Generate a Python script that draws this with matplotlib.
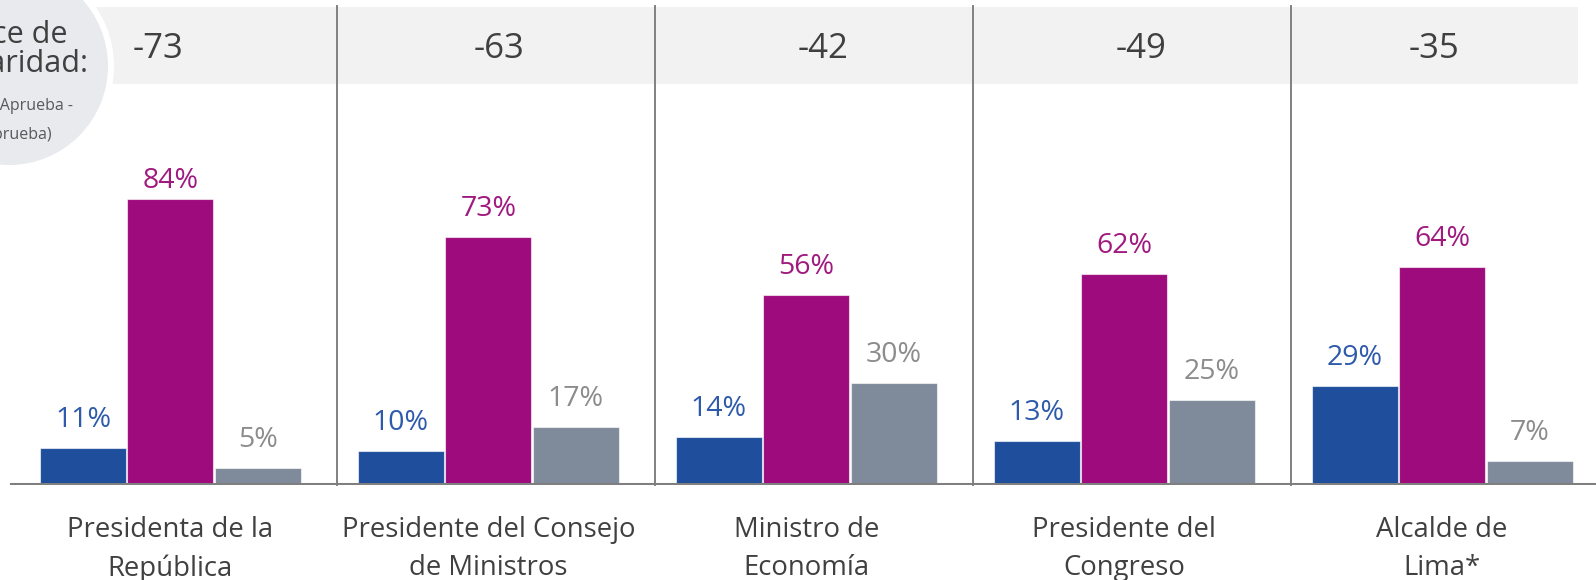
import matplotlib.pyplot as plt
from matplotlib.patches import Rectangle, Circle
import numpy as np

plt.rcParams['font.family'] = ['Open Sans', 'DejaVu Sans']

# data
cargos = ['Presidenta de la\nRepública', 'Presidente del Consejo\nde Ministros',
          'Ministro de\nEconomía', 'Presidente del\nCongreso', 'Alcalde de\nLima*']
aprueba = [11, 10, 14, 13, 29]
desaprueba = [84, 73, 56, 62, 64]
no_precisa = [5, 17, 30, 25, 7]
indice = [-73, -63, -42, -49, -35]

c_blue = '#1F4E9C'
c_mag = '#9E0B7D'
c_gray = '#7F8A9B'
t_dark = '#404040'

W, H = 1596, 580
fig = plt.figure(figsize=(W / 100, H / 100), dpi=100)

# pixel-space layer for decorations (band, circle)
deco = fig.add_axes([0, 0, 1, 1], zorder=0)
deco.set_xlim(0, W)
deco.set_ylim(H, 0)
deco.axis('off')

deco.add_patch(Rectangle((60, 7), 1518, 77, color='#F2F2F2', lw=0))
deco.add_patch(Circle((9, 66), 102, facecolor='#E9EAEE', edgecolor='white', lw=4.3))
deco.text(68, 43, 'Índice de', ha='right', va='baseline', fontsize=22, color=t_dark)
deco.text(88, 72, 'popularidad:', ha='right', va='baseline', fontsize=22, color=t_dark)
deco.text(73, 110, '(Aprueba -', ha='right', va='baseline', fontsize=11.5, color='#595959')
deco.text(52, 139, 'Desaprueba)', ha='right', va='baseline', fontsize=11.5, color='#595959')

# bars
base_px = 485
px_per = 3.4
ax = fig.add_axes([0, (H - base_px) / H, 1, base_px / H], zorder=1)
ax.patch.set_alpha(0)
grp = 317.9
x0 = 170.5
ax.set_xlim(-x0 / grp, (W - x0) / grp)
ax.set_ylim(0, base_px / px_per)
ax.axis('off')

x = np.arange(len(cargos))
bw = 86 / grp
off = 87.5 / grp
lab_gap = 21 / px_per            # label baseline above bar top
lab_max = (base_px - 188) / px_per  # labels stay below the band area
series = [(aprueba, c_blue, '#2E5AAC', -off), (desaprueba, c_mag, '#A0197F', 0),
          (no_precisa, c_gray, '#8C8C8C', off)]
for vals, col, tcol, dx in series:
    bars = ax.bar(x + dx, vals, bw, color=col, edgecolor=(1, 1, 1, 0.6), lw=0.8, zorder=2)
    for b, v in zip(bars, vals):
        ax.text(b.get_x() + b.get_width() / 2, min(v + lab_gap, lab_max), f'{v}%',
                ha='center', va='baseline', fontsize=20.5, color=tcol, clip_on=False)

# baseline and separators
ax.axhline(0, xmin=12 / W, xmax=1, color='#7F7F7F', lw=2.9, zorder=3)
sep_top = (base_px - 6) / px_per
for k in range(len(cargos) - 1):
    ax.plot([k + 0.524, k + 0.524], [0, sep_top], color='#808080', lw=1.4, zorder=1,
            clip_on=False)

# index values in the top band
idx_dx = [-13, 11, 17, 17, -8.5]
for k, v in enumerate(indice):
    ax.annotate(str(v), (k, sep_top), xytext=(idx_dx[k] / 1.389, -(49 - 6) / 1.389),
                textcoords='offset points', ha='center', va='center',
                fontsize=25, color=t_dark, annotation_clip=False)

# category labels
for k, lab in enumerate(cargos):
    ax.annotate(lab, (k, 0), xytext=(0, -31 / 1.389), textcoords='offset points',
                ha='center', va='top', fontsize=19.8, color=t_dark, linespacing=1.48,
                annotation_clip=False)

fig.savefig('out.png', dpi=100)
